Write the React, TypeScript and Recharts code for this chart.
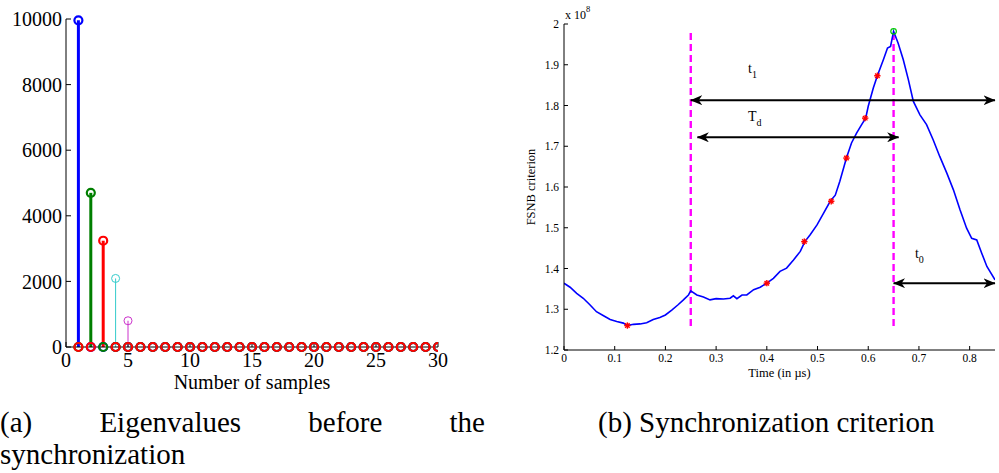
import React from 'react'
import {
  ComposedChart,
  Line,
  Scatter,
  XAxis,
  YAxis,
  ReferenceLine,
  ReferenceDot,
  Label,
} from 'recharts'

const serif = '"Liberation Serif", "Times New Roman", serif'

// (a) eigenvalues, one stem series per colour
const sampleIdx = [1, 2, 3, 4, 5, 6, 7, 8, 9, 10, 11, 12, 13, 14, 15, 16, 17, 18, 19, 20, 21, 22, 23, 24, 25, 26, 27, 28, 29, 30]
const eigBlue = [9960, 0, 0, 0, 0, 0, 0, 0, 0, 0, 0, 0, 0, 0, 0, 0, 0, 0, 0, 0, 0, 0, 0, 0, 0, 0, 0, 0, 0, 0]
const eigGreen = [0, 4700, 0, 0, 0, 0, 0, 0, 0, 0, 0, 0, 0, 0, 0, 0, 0, 0, 0, 0, 0, 0, 0, 0, 0, 0, 0, 0, 0, 0]
const eigRed = [0, 0, 3240, 0, 0, 0, 0, 0, 0, 0, 0, 0, 0, 0, 0, 0, 0, 0, 0, 0, 0, 0, 0, 0, 0, 0, 0, 0, 0, 0]
const eigCyan = [0, 0, 0, 2090, 0, 0, 0, 0, 0, 0, 0, 0, 0, 0, 0, 0, 0, 0, 0, 0, 0, 0, 0, 0, 0, 0, 0, 0, 0, 0]
const eigMagenta = [0, 0, 0, 0, 800, 0, 0, 0, 0, 0, 0, 0, 0, 0, 0, 0, 0, 0, 0, 0, 0, 0, 0, 0, 0, 0, 0, 0, 0, 0]
const sampleTicks = [0, 5, 10, 15, 20, 25, 30]
const eigTicks = [0, 2000, 4000, 6000, 8000, 10000]

// (b) FSNB criterion (x 10^8) vs time in µs
const timeUs = [0, 0.012, 0.025, 0.038, 0.051, 0.064, 0.078, 0.091, 0.104, 0.117, 0.125, 0.137, 0.15, 0.163, 0.176, 0.189, 0.2, 0.2125, 0.225, 0.2355, 0.2454, 0.25, 0.262, 0.275, 0.288, 0.3, 0.3145, 0.3276, 0.334, 0.341, 0.351, 0.3605, 0.374, 0.387, 0.4, 0.413, 0.426, 0.439, 0.4526, 0.466, 0.475, 0.4855, 0.499, 0.512, 0.525, 0.535, 0.544, 0.557, 0.567, 0.577, 0.587, 0.595, 0.6, 0.61, 0.618, 0.63, 0.638, 0.644, 0.65, 0.659, 0.669, 0.679, 0.689, 0.702, 0.715, 0.728, 0.741, 0.755, 0.768, 0.781, 0.794, 0.804, 0.814, 0.824, 0.834, 0.85]
const fsnb = [1.364, 1.354, 1.339, 1.327, 1.311, 1.294, 1.284, 1.275, 1.27, 1.266, 1.26, 1.263, 1.264, 1.267, 1.275, 1.28, 1.286, 1.298, 1.311, 1.323, 1.335, 1.345, 1.335, 1.33, 1.323, 1.326, 1.325, 1.327, 1.333, 1.326, 1.335, 1.335, 1.348, 1.354, 1.364, 1.376, 1.393, 1.401, 1.421, 1.442, 1.466, 1.483, 1.507, 1.536, 1.565, 1.58, 1.614, 1.671, 1.708, 1.732, 1.753, 1.769, 1.798, 1.843, 1.873, 1.913, 1.941, 1.945, 1.982, 1.953, 1.913, 1.864, 1.81, 1.777, 1.753, 1.716, 1.675, 1.634, 1.593, 1.544, 1.499, 1.474, 1.47, 1.437, 1.405, 1.372]
const starT = [0.125, 0.4, 0.474, 0.527, 0.557, 0.594, 0.618]
const starV = [1.26, 1.364, 1.466, 1.565, 1.671, 1.769, 1.873]
const peakT = [0.65]
const peakV = [1.982]
const syncT = [0.25, 0.65]
const syncFrom = 1.259
const syncTo = 1.984
const arrowFrom = [0.25, 0.263, 0.65]
const arrowTo = [0.85, 0.66, 0.85]
const arrowLevel = [1.813, 1.722, 1.364]
const annMain = ['t', 'T', 't']
const annSub = ['1', 'd', '0']
const annT = [0.363, 0.363, 0.692]
const annV = [1.879, 1.763, 1.425]
const timeTicks = [0, 0.1, 0.2, 0.3, 0.4, 0.5, 0.6, 0.7, 0.8]
const fsnbTicks = [1.2, 1.3, 1.4, 1.5, 1.6, 1.7, 1.8, 1.9, 2]

// draw order matters: thin ones first so the thick red zero markers end on top
const stems = [
  { vals: eigCyan, color: '#33cccc', w: 1, thick: false },
  { vals: eigMagenta, color: '#cc33cc', w: 1, thick: false },
  { vals: eigBlue, color: '#0000ff', w: 3, thick: true },
  { vals: eigGreen, color: '#007f00', w: 3, thick: true },
  { vals: eigRed, color: '#ff0000', w: 3, thick: true },
]

const toPts = (vals: number[]) => sampleIdx.map((x, i) => ({ x, y: vals[i] }))
const curve = timeUs.map((t, i) => ({ t, v: fsnb[i] }))
const stars = starT.map((t, i) => ({ t, v: starV[i] }))
const peak = peakT.map((t, i) => ({ t, v: peakV[i] }))

const leftTick = { fontSize: 20, fill: '#000', fontFamily: serif }
const rightTick = { fontSize: 11.5, fill: '#000', fontFamily: serif }
const noLabel = () => ''

function Star(props: any) {
  const { cx, cy } = props
  const s = 3.2
  return (
    <g stroke="#ff0000" strokeWidth={1.4}>
      <line x1={cx - s} y1={cy} x2={cx + s} y2={cy} />
      <line x1={cx} y1={cy - s} x2={cx} y2={cy + s} />
      <line x1={cx - s * 0.7} y1={cy - s * 0.7} x2={cx + s * 0.7} y2={cy + s * 0.7} />
      <line x1={cx - s * 0.7} y1={cy + s * 0.7} x2={cx + s * 0.7} y2={cy - s * 0.7} />
    </g>
  )
}

function Arrow(props: any) {
  const { x1, y1, x2, y2 } = props
  return (
    <line x1={x1} y1={y1} x2={x2} y2={y2} stroke="#000" strokeWidth={2}
      markerStart="url(#arrowHead)" markerEnd="url(#arrowHead)" />
  )
}

function EigenChart() {
  return (
    <ComposedChart width={460} height={400} margin={{ top: 19, right: 22, bottom: 8, left: 0 }}>
      <XAxis dataKey="x" type="number" domain={[0, 30]} ticks={sampleTicks} allowDataOverflow
        height={45} tick={leftTick} tickSize={-5} tickMargin={11} stroke="#000" interval={0}>
        <Label content={({ viewBox }: any) => (
          <text x={viewBox.x + viewBox.width / 2} y={viewBox.y + 42} textAnchor="middle"
            fontSize={20} fontFamily={serif} fill="#000">Number of samples</text>
        )} />
      </XAxis>
      <XAxis xAxisId="top" orientation="top" type="number" domain={[0, 30]} ticks={sampleTicks}
        height={0} tickSize={-5} tickFormatter={noLabel} stroke="#000" />
      <YAxis type="number" domain={[0, 10000]} ticks={eigTicks} width={66} tick={leftTick}
        tickSize={-5} tickMargin={9} stroke="#000" interval={0} />
      <YAxis yAxisId="right" orientation="right" type="number" domain={[0, 10000]} ticks={eigTicks}
        width={0} tickSize={-5} tickFormatter={noLabel} stroke="#000" />
      {stems.map((s, si) =>
        s.vals.map((v, i) =>
          v > 0 ? (
            <ReferenceLine key={`st${si}-${i}`} segment={[{ x: sampleIdx[i], y: 0 }, { x: sampleIdx[i], y: v }]}
              stroke={s.color} strokeWidth={s.w} />
          ) : null
        )
      )}
      {stems.map((s, si) => (
        <Scatter key={`sc${si}`} data={toPts(s.vals)} dataKey="y" isAnimationActive={false}
          shape={(p: any) => (
            <circle cx={p.cx} cy={p.cy} r={4} fill="none" stroke={s.color} strokeWidth={s.thick ? 2.2 : 1} />
          )} />
      ))}
    </ComposedChart>
  )
}

function FsnbChart() {
  return (
    <ComposedChart width={499} height={400} data={curve} margin={{ top: 24, right: 4, bottom: 20, left: 0 }}>
      <XAxis dataKey="t" type="number" domain={[0, 0.85]} ticks={timeTicks} allowDataOverflow
        height={30} tick={rightTick} tickSize={-4} tickMargin={8} stroke="#000" interval={0}>
        <Label content={({ viewBox }: any) => (
          <text x={viewBox.x + viewBox.width / 2} y={viewBox.y + 27} textAnchor="middle"
            fontSize={12.5} fontFamily={serif} fill="#000">Time (in µs)</text>
        )} />
      </XAxis>
      <XAxis xAxisId="top" orientation="top" type="number" domain={[0, 0.85]} ticks={timeTicks}
        height={0} tickSize={-4} tickFormatter={noLabel} stroke="#000" />
      <YAxis type="number" domain={[1.2, 2]} ticks={fsnbTicks} width={64} tick={rightTick}
        tickSize={-4} tickMargin={9} stroke="#000" interval={0} allowDataOverflow
        tickFormatter={(v: number) => String(Number(v.toFixed(1)))}>
        <Label content={({ viewBox }: any) => {
          const x = viewBox.x + 35
          const y = viewBox.y + viewBox.height / 2
          return (
            <text x={x} y={y} transform={`rotate(-90 ${x} ${y})`} textAnchor="middle"
              fontSize={12.5} fontFamily={serif} fill="#000">FSNB criterion</text>
          )
        }} />
      </YAxis>
      <YAxis yAxisId="right" orientation="right" type="number" domain={[1.2, 2]} ticks={fsnbTicks}
        width={0} tickSize={-4} tickFormatter={noLabel} stroke="#000" />
      <ReferenceDot x={0} y={2} r={0} ifOverflow="visible" shape={(p: any) => (
        <text x={p.cx + 1} y={p.cy - 5} fontSize={12} fontFamily={serif} fill="#000">
          x 10<tspan dy={-7} fontSize={8.5}>8</tspan>
        </text>
      )} />
      {syncT.map((t) => (
        <ReferenceLine key={`sy${t}`} segment={[{ x: t, y: syncFrom }, { x: t, y: syncTo }]}
          stroke="#ff00ff" strokeWidth={2.4} strokeDasharray="7 4" />
      ))}
      <Line dataKey="v" stroke="#0000ff" strokeWidth={1.6} dot={false} type="linear" isAnimationActive={false} />
      <Scatter data={stars} dataKey="v" shape={Star} isAnimationActive={false} />
      <Scatter data={peak} dataKey="v" isAnimationActive={false}
        shape={(p: any) => <circle cx={p.cx} cy={p.cy} r={2.8} fill="none" stroke="#00cc00" strokeWidth={1.2} />} />
      {arrowLevel.map((lv, i) => (
        <ReferenceLine key={`ar${i}`} segment={[{ x: arrowFrom[i], y: lv }, { x: arrowTo[i], y: lv }]}
          shape={Arrow} />
      ))}
      {annMain.map((m, i) => (
        <ReferenceDot key={`an${i}`} x={annT[i]} y={annV[i]} r={0} shape={(p: any) => (
          <text x={p.cx} y={p.cy} fontSize={14} fontFamily={serif} fill="#000">
            {m}<tspan dy={5} fontSize={10}>{annSub[i]}</tspan>
          </text>
        )} />
      ))}
    </ComposedChart>
  )
}

export default function App() {
  const caption: React.CSSProperties = {
    position: 'absolute',
    top: 406,
    fontFamily: serif,
    fontSize: 29,
    lineHeight: '32px',
    color: '#000',
  }
  return (
    <div style={{ position: 'absolute', left: 0, top: 0, width: 999, height: 473, background: '#fff', overflow: 'hidden' }}>
      <svg width={0} height={0} style={{ position: 'absolute' }}>
        <defs>
          <marker id="arrowHead" viewBox="0 0 12 10" refX={11.5} refY={5} markerWidth={12} markerHeight={10}
            orient="auto-start-reverse" markerUnits="userSpaceOnUse">
            <path d="M0,0 L12,5 L0,10 L3.5,5 z" fill="#000" />
          </marker>
        </defs>
      </svg>
      <div style={{ position: 'absolute', left: 0, top: 0 }}>
        <EigenChart />
      </div>
      <div style={{ position: 'absolute', left: 500, top: 0 }}>
        <FsnbChart />
      </div>
      <div style={{ ...caption, left: 0, width: 485, textAlign: 'justify' }}>
        (a) Eigenvalues before the synchronization
      </div>
      <div style={{ ...caption, left: 598 }}>(b) Synchronization criterion</div>
    </div>
  )
}
